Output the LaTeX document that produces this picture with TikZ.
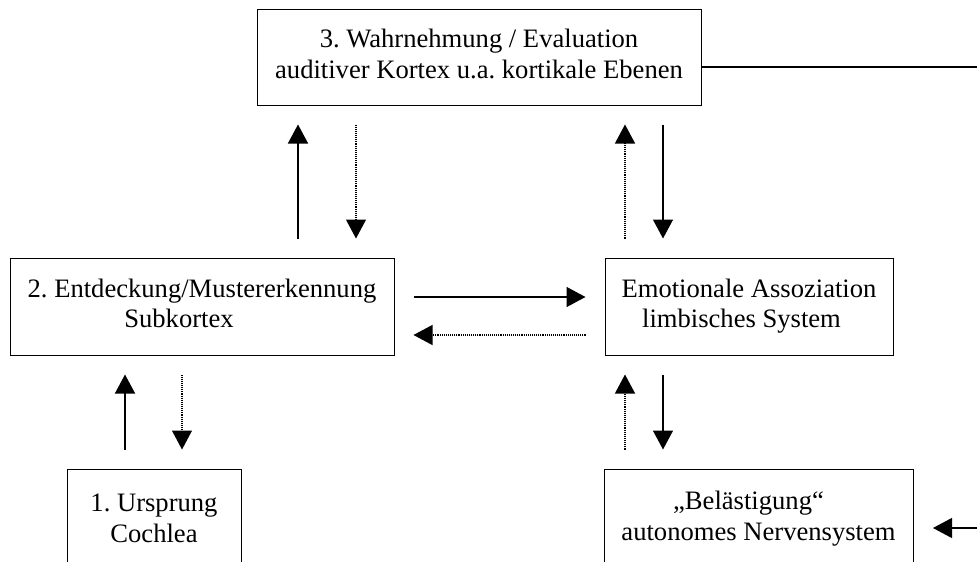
\documentclass[tikz,border=0pt]{standalone}
\usepackage{fontspec}
\setmainfont{Liberation Serif}
\usetikzlibrary{arrows.meta}
\frenchspacing
\begin{document}
\begin{tikzpicture}[x=1pt,y=-1pt,
 box/.style={draw,line width=1pt,inner sep=0pt,align=center,font=\fontsize{26.6}{30.5}\selectfont},
 sol/.style={line width=1.4pt,-{Triangle[length=19pt,width=20pt]}},
 dotarrow/.style={line width=1.2pt,dash pattern=on 1.1pt off 1pt,-{Triangle[length=19pt,width=20pt]}},
 gap/.style={shorten <=19pt,shorten >=19pt},
 ]
\useasboundingbox (0,0) rectangle (977,562);
\clip (0,0) rectangle (977,562);
\node[box,minimum width=444pt,minimum height=96pt] (b3) at (479,57)
  {\strut 3. Wahrnehmung / Evaluation\\auditiver Kortex u.a. kortikale Ebenen\strut};
\node[box,minimum width=384pt,minimum height=97pt] (b2) at (202,306.5)
  {\strut 2. Entdeckung/Mustererkennung\\Subkortex\hspace*{46pt}\strut};
\node[box,minimum width=288pt,minimum height=97pt] (be) at (749,306.5)
  {\strut Emotionale Assoziation\\limbisches System\hspace*{15pt}\strut};
\node[box,minimum width=174pt,minimum height=104pt] (b1) at (154,521)
  {\strut 1. Ursprung\\Cochlea\strut};
\node[box,minimum width=309pt,minimum height=100pt] (bb) at (758.5,519)
  {\strut „Belästigung“\hspace*{20pt}\\autonomes Nervensystem\strut};
% x positions of vertical arrows
\coordinate (xa) at (298,0);
\coordinate (xb) at (356,0);
\coordinate (xc) at (625,0);
\coordinate (xd) at (663,0);
\coordinate (xe) at (125,0);
\coordinate (xf) at (182,0);
\coordinate (ya) at (0,297);
\coordinate (yb) at (0,335);
% between box 2 and box 3
\draw[sol,gap] (xa |- b2.north) -- (xa |- b3.south);
\draw[dotarrow,gap] (xb |- b3.south) -- (xb |- b2.north);
% between emotional and box 3
\draw[dotarrow,gap] (xc |- be.north) -- (xc |- b3.south);
\draw[sol,gap] (xd |- b3.south) -- (xd |- be.north);
% horizontal
\draw[sol,gap] (b2.east |- ya) -- (be.west |- ya);
\draw[dotarrow,gap] (be.west |- yb) -- (b2.east |- yb);
% between box 1 and box 2
\draw[sol,gap] (xe |- b1.north) -- (xe |- b2.south);
\draw[dotarrow,gap] (xf |- b2.south) -- (xf |- b1.north);
% between emotional and Belaestigung
\draw[dotarrow,gap] (xc |- bb.north) -- (xc |- be.south);
\draw[sol,gap] (xd |- be.south) -- (xd |- bb.north);
% lines to the right edge
\coordinate (r1) at (977,67);
\coordinate (r2) at (977,528);
\coordinate (t2) at (933,528);
\draw[line width=1.2pt] (b3.east |- r1) -- (r1);
\draw[line width=1.2pt,-{Triangle[length=19pt,width=20pt]}] (r2) -- (t2);
\end{tikzpicture}
\end{document}
